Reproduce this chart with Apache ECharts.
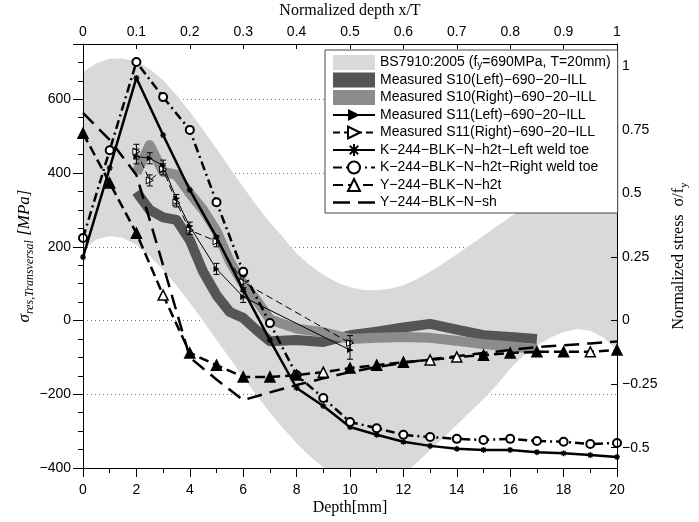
<!DOCTYPE html>
<html><head><meta charset="utf-8">
<script src="https://cdn.jsdelivr.net/npm/echarts@6/dist/echarts.min.js"></script>
<style>html,body{margin:0;padding:0;background:#fff}#c{width:699px;height:522px}</style>
</head><body><div id="c"></div>
<script>
// ---------- data ----------
const depth = [0,1,2,3,4,5,6,7,8,9,10,11,12,13,14,15,16,17,18,19,20];
const kLeft  = [172,414,658,503,354,226,83,-53,-183,-232,-289,-310,-329,-340,-348,-351,-351,-357,-360,-365,-370];
const kRight = [224,462,701,606,517,321,132,-7,-148,-210,-275,-292,-310,-316,-321,-324,-321,-327,-329,-335,-332];
const yH2t   = [508,373,237,69,-88,-121,-153,-153,-148,-140,-129,-121,-113,-107,-99,-94,-88,-85,-85,-85,-80];
const yH2tHollowAt = [3,9,13,14,19];
const ySh    = [563,490,395,150,-100,-160,-216,-195,-175,-157,-140,-126,-115,-105,-97,-88,-80,-72,-67,-62,-57];

const s10Depth = [2,2.5,3,3.5,4,4.5,5,5.5,6,6.5,7,8,9,10,11,12,13,14,15,16,17];
const s10Left  = [349,300,280,273,218,132,69,23,7,-26,-56,-53,-58,-40,-30,-19,-9,-25,-40,-45,-50];
const s10Right = [400,476,403,395,345,300,243,160,100,55,3,-22,-32,-50,-47,-45,-47,-55,-64,-70,-78];

const s11Depth = [2,2.5,3,3.5,4,5,6,10];
const s11Left  = [445,440,420,330,255,140,64,-80];
const s11LeftErr = [20,15,15,12,12,15,15,25];
const s11Right = [458,380,410,320,245,215,104,-61];
const s11RightErr = [20,15,15,12,12,15,15,20];

const bsDepth = [0,0.5,1,1.5,2,2.5,3,3.5,4,4.5,5,5.5,6,6.5,7,7.5,8,8.5,9,9.5,10,10.5,11,11.5,12,12.5,13,13.5,14,14.5,15,15.5,16,16.5,17,17.5,18,18.5,19,19.5,20];
const bsUpper = [674,698,710,711,702,682,652,612,566,517,466,414,362,312,266,225,182,150,124,104,90,83,82,86,96,112,132,155,180,205,230,256,281,305,328,350,370,387,401,412,420];
const bsLower = [191,220,229,224,205,175,137,95,48,-1,-52,-103,-153,-203,-250,-293,-333,-368,-398,-422,-440,-450,-450,-440,-418,-386,-352,-318,-283,-248,-213,-175,-130,-95,-68,-47,-31,-23,-28,-47,-80];

const normTicks = [-0.5,-0.25,0,0.25,0.5,0.75,1];
const fy = 690;

// ---------- names ----------
const nBS = 'BS7910:2005 (fy=690MPa, T=20mm)';
const nS10L = 'Measured S10(Left)−690−20−ILL';
const nS10R = 'Measured S10(Right)−690−20−ILL';
const nS11L = 'Measured S11(Left)−690−20−ILL';
const nS11R = 'Measured S11(Right)−690−20−ILL';
const nKL = 'K−244−BLK−N−h2t−Left weld toe';
const nKR = 'K−244−BLK−N−h2t−Right weld toe';
const nYH = 'Y−244−BLK−N−h2t';
const nYS = 'Y−244−BLK−N−sh';

const zip = (xs, ys) => xs.map((x, i) => [x, ys[i]]);
const SANS = 'Liberation Sans, Arial, Helvetica, sans-serif';
const SERIF = 'Liberation Serif, Times New Roman, serif';

function errRender(params, api) {
  const x = api.value(0), lo = api.value(1), hi = api.value(2);
  const p1 = api.coord([x, lo]), p2 = api.coord([x, hi]);
  const w = 3;
  const st = {stroke: '#000', lineWidth: 1};
  return {type: 'group', children: [
    {type: 'line', shape: {x1: p1[0], y1: p1[1], x2: p2[0], y2: p2[1]}, style: st},
    {type: 'line', shape: {x1: p1[0]-w, y1: p1[1], x2: p1[0]+w, y2: p1[1]}, style: st},
    {type: 'line', shape: {x1: p2[0]-w, y1: p2[1], x2: p2[0]+w, y2: p2[1]}, style: st}
  ]};
}

// band polygon: upper edge left->right, lower edge right->left, all through the axis scales
function bandRender(params, api) {
  if (params.dataIndex !== 0) return null;
  const n = bsDepth.length;
  const pts = [];
  for (let i = 0; i < n; i++) pts.push(api.coord([api.value(0, i), api.value(2, i)]));
  for (let i = n - 1; i >= 0; i--) pts.push(api.coord([api.value(0, i), api.value(1, i)]));
  return {type: 'polygon', shape: {points: pts}, style: {fill: '#d9d9d9', stroke: null}};
}

const chart = echarts.init(document.getElementById('c'), null, {renderer: 'canvas'});
const axisLineStyle = {color: '#000', width: 1};
const shIcon = 'path://M0,0h0.05v0.05h-0.05Z M0,6.2h17v2.6h-17Z M25,6.2h17v2.6h-17Z M41.95,14.95h0.05v0.05h-0.05Z';

const option = {
  animation: false,
  backgroundColor: '#fff',
  textStyle: {fontFamily: SANS},
  grid: {left: 83, right: 82, top: 44, bottom: 54, containLabel: false, outerBoundsMode: 'none'},
  xAxis: [
    {type: 'value', position: 'bottom', min: 0, max: 20, interval: 2, z: 10,
     axisLine: {show: true, onZero: false, lineStyle: axisLineStyle},
     axisTick: {show: true, inside: false, length: 9, lineStyle: axisLineStyle},
     minorTick: {show: true, splitNumber: 2, length: 5, lineStyle: axisLineStyle},
     axisLabel: {fontSize: 14, color: '#000', margin: 15, fontFamily: SANS},
     splitLine: {show: false},
     name: 'Depth[mm]', nameLocation: 'middle', nameGap: 32, nameMoveOverlap: false,
     nameTextStyle: {fontFamily: SERIF, fontSize: 16, color: '#000'}},
    {type: 'value', position: 'top', min: 0, max: 1, interval: 0.1, z: 10,
     axisLine: {show: true, onZero: false, lineStyle: axisLineStyle},
     axisTick: {show: true, inside: true, length: 5, lineStyle: axisLineStyle},
     axisLabel: {fontSize: 14, color: '#000', margin: 5, fontFamily: SANS},
     splitLine: {show: false},
     name: 'Normalized depth x/T', nameLocation: 'middle', nameGap: 25, nameMoveOverlap: false,
     nameTextStyle: {fontFamily: SERIF, fontSize: 16, color: '#000'}}
  ],
  yAxis: [
    {type: 'value', position: 'left', min: -400, max: 750, interval: 200, z: 10,
     axisLine: {show: true, onZero: false, lineStyle: axisLineStyle},
     axisTick: {show: true, inside: false, length: 10, lineStyle: axisLineStyle},
     minorTick: {show: true, splitNumber: 4, length: 5, lineStyle: axisLineStyle},
     axisLabel: {fontSize: 14, color: '#000', margin: 12, showMaxLabel: false, fontFamily: SANS,
       formatter: v => String(v).replace('-', '−')},
     splitLine: {show: false},
     name: '{m|σ}{s|res,Transversal}{m| [MPa]}', nameLocation: 'middle', nameGap: 47,
     nameMoveOverlap: false,
     nameTextStyle: {color: '#000', rich: {
       m: {fontFamily: SERIF, fontStyle: 'italic', fontSize: 17, lineHeight: 22, verticalAlign: 'middle', color: '#000'},
       s: {fontFamily: SERIF, fontStyle: 'italic', fontSize: 12, lineHeight: 22, verticalAlign: 'bottom', color: '#000'}}}},
    {type: 'value', position: 'right', min: -400, max: 750, z: 10,
     axisLine: {show: true, onZero: false, lineStyle: axisLineStyle},
     axisTick: {show: true, inside: true, length: 6, lineStyle: axisLineStyle, customValues: normTicks.map(t => t * fy)},
     axisLabel: {fontSize: 14, color: '#000', margin: 5, fontFamily: SANS,
       customValues: normTicks.map(t => t * fy),
       formatter: v => { const t = Math.round(v / fy * 100) / 100; return t === 0 ? '0' : (t < 0 ? '−' : '') + Math.abs(t); }},
     splitLine: {show: false},
     name: '{m|Normalized stress  σ/f}{s|y}', nameLocation: 'middle', nameGap: 51,
     nameRotate: 90, nameMoveOverlap: false,
     nameTextStyle: {color: '#000', rich: {
       m: {fontFamily: SERIF, fontSize: 16, lineHeight: 22, verticalAlign: 'middle', color: '#000'},
       s: {fontFamily: SERIF, fontSize: 11, lineHeight: 22, verticalAlign: 'bottom', color: '#000'}}}},
    {type: 'value', position: 'left', min: -400, max: 750, interval: 200, z: 0,
     axisLine: {show: false}, axisTick: {show: false}, axisLabel: {show: false},
     splitLine: {show: true, lineStyle: {color: '#777', type: [1, 3], width: 1}}}
  ],
  legend: {
    orient: 'vertical', left: 325, top: 50, itemWidth: 42, itemHeight: 15, itemGap: 2.5,
    padding: [5, 7, 3, 7], backgroundColor: '#fff', borderColor: '#444', borderWidth: 1,
    selectedMode: false, z: 20,
    textStyle: {fontSize: 14, color: '#000', fontFamily: SANS, lineHeight: 15,
      rich: {a: {fontSize: 14, lineHeight: 15, verticalAlign: 'middle', fontFamily: SANS, color: '#000'},
             s: {fontSize: 10, lineHeight: 15, verticalAlign: 'bottom', fontFamily: SANS, color: '#000'}}},
    formatter: name => name === nBS ? '{a|BS7910:2005 (f}{s|y}{a|=690MPa, T=20mm)}' : '{a|' + name + '}',
    data: [
      {name: nBS, icon: 'rect'}, {name: nS10L, icon: 'rect'}, {name: nS10R, icon: 'rect'},
      nS11L, nS11R, nKL, nKR, nYH, {name: nYS, icon: shIcon}
    ]
  },
  series: [
    {name: nBS, type: 'custom', renderItem: bandRender, clip: true, silent: true, z: 1,
     itemStyle: {color: '#d9d9d9'}, color: '#d9d9d9',
     data: bsDepth.map((d, i) => [d, bsLower[i], bsUpper[i]]),
     encode: {x: 0, y: [1, 2]}},
    {name: nS10L, type: 'line', data: zip(s10Depth, s10Left), symbol: 'none', color: '#555555',
     lineStyle: {width: 10, color: '#555555', cap: 'butt', join: 'round'}, z: 2},
    {name: nS10R, type: 'line', data: zip(s10Depth, s10Right), symbol: 'none', color: '#8c8c8c',
     lineStyle: {width: 10, color: '#8c8c8c', cap: 'butt', join: 'round'}, z: 2},
    {name: nS11L, type: 'line', data: zip(s11Depth, s11Left), color: '#000',
     symbol: 'triangle', symbolRotate: -90, symbolSize: 6,
     itemStyle: {color: '#000'}, lineStyle: {width: 1, color: '#000'}, z: 3, clip: false},
    {name: nS11R, type: 'line', data: zip(s11Depth, s11Right), color: '#000',
     symbol: 'triangle', symbolRotate: -90, symbolSize: 7,
     itemStyle: {color: '#fff', borderColor: '#000', borderWidth: 1},
     lineStyle: {width: 1, color: '#000', type: [7, 4]}, z: 3, clip: false},
    {name: 'errL', type: 'custom', renderItem: errRender, z: 4, silent: true,
     data: s11Depth.map((d, i) => [d, s11Left[i] - s11LeftErr[i], s11Left[i] + s11LeftErr[i]]),
     encode: {x: 0, y: [1, 2]}},
    {name: 'errR', type: 'custom', renderItem: errRender, z: 4, silent: true,
     data: s11Depth.map((d, i) => [d, s11Right[i] - s11RightErr[i], s11Right[i] + s11RightErr[i]]),
     encode: {x: 0, y: [1, 2]}},
    {name: nKL, type: 'line', data: zip(depth, kLeft), color: '#000',
     symbol: 'path://M0,5L10,5M5,0L5,10M1.5,1.5L8.5,8.5M8.5,1.5L1.5,8.5', symbolSize: 6,
     itemStyle: {color: '#000', borderColor: '#000', borderWidth: 1.3},
     lineStyle: {width: 2.5, color: '#000'}, z: 5, clip: false},
    {name: nKR, type: 'line', data: zip(depth, kRight), color: '#000',
     symbol: 'circle', symbolSize: 8,
     itemStyle: {color: '#fff', borderColor: '#000', borderWidth: 2},
     lineStyle: {width: 2.5, color: '#000', type: [9, 4, 2, 4]}, z: 5, clip: false},
    {name: nYH, type: 'line', color: '#000',
     data: depth.map((d, i) => yH2tHollowAt.includes(d) ? [d, yH2t[i]] : {value: [d, yH2t[i]], itemStyle: {color: '#000'}}),
     symbol: 'triangle', symbolSize: 10,
     itemStyle: {color: '#fff', borderColor: '#000', borderWidth: 1.5},
     lineStyle: {width: 2.5, color: '#000', type: [10, 5]}, z: 5, clip: false},
    {name: nYS, type: 'line', data: zip(depth, ySh), color: '#000', symbol: 'none',
     lineStyle: {width: 2.5, color: '#000', type: [15, 8]}, z: 5}
  ]
};
chart.setOption(option);
</script>
</body></html>
